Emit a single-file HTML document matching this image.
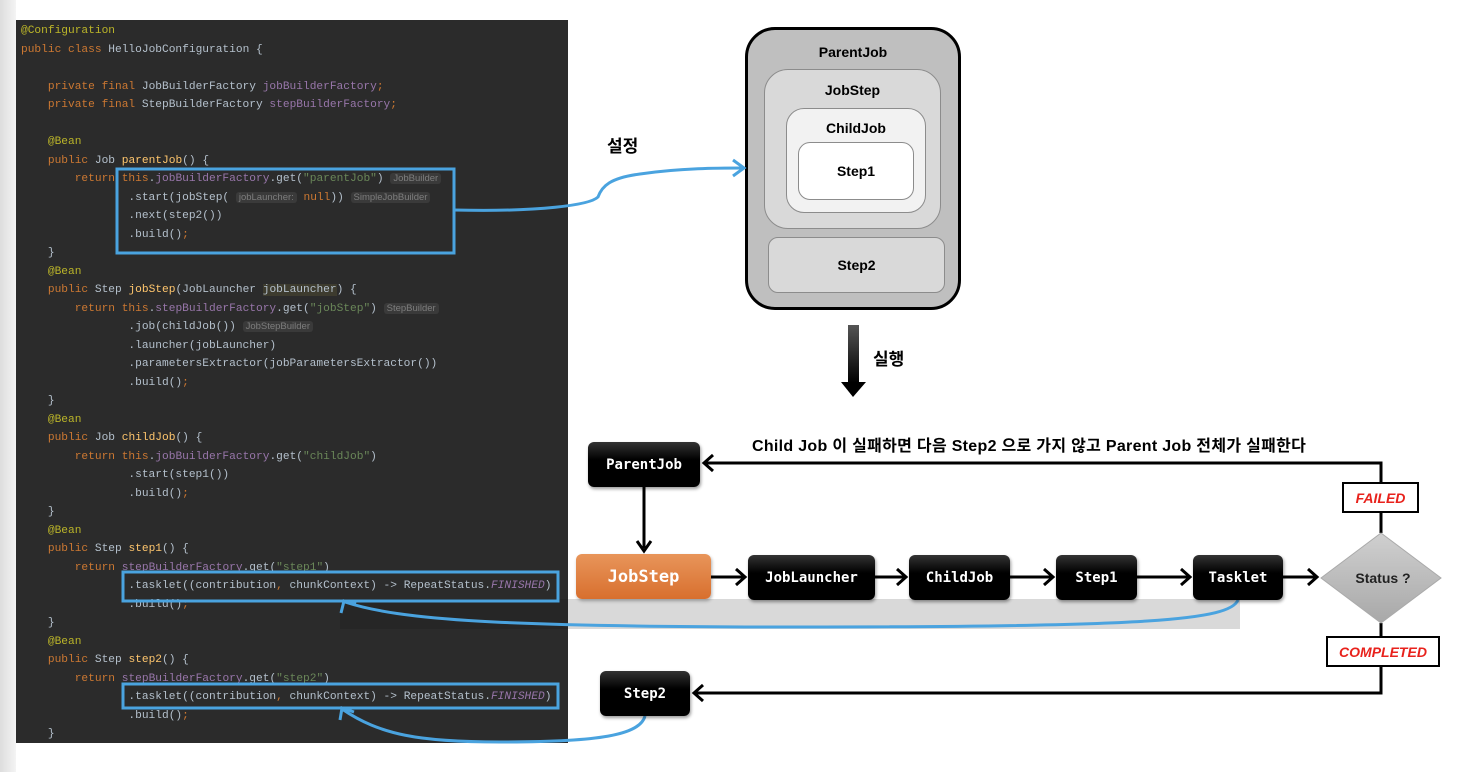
<!DOCTYPE html>
<html><head><meta charset="utf-8"><style>
body{margin:0;width:1462px;height:772px;background:#fff;position:relative;overflow:hidden;font-family:"Liberation Sans","Noto Sans CJK KR",sans-serif}
#lg{position:absolute;left:0;top:0;width:16px;height:772px;background:linear-gradient(90deg,#ddd,#f4f4f4)}
#code{position:absolute;left:16px;top:20px;width:552px;height:723px;background:#2b2b2b}
pre{position:absolute;left:21px;top:22px;margin:0;font-family:"Liberation Mono",monospace;font-size:11.2px;line-height:18.5px;color:#b4c0cc}
.k{color:#cc7832}.a{color:#bbb529}.f{color:#9876aa}.s{color:#6a8759}.m{color:#ffc66d}.i{color:#9876aa;font-style:italic}
.h{font-family:"Liberation Sans",sans-serif;font-size:9.5px;color:#7d7d7d;background:#3a3a3a;border-radius:3px;padding:0 3px}
.hl{background:#3d3b2e}
.box{position:absolute;box-sizing:border-box;border-radius:8px;font-weight:bold;display:flex;align-items:center;justify-content:center}
.blk{background:linear-gradient(#333,#000 40%);color:#fff;font-family:"DejaVu Sans Mono",monospace;font-size:14px;border-radius:6px;box-shadow:1px 2px 3px rgba(0,0,0,.4)}
.lbl{position:absolute;background:#fff;border:2px solid #000;box-sizing:border-box;color:#e8221c;font-style:italic;font-weight:bold;font-size:14px;display:flex;align-items:center;justify-content:center}
</style></head><body>
<div id="lg"></div>
<div id="code"></div>
<div style="position:absolute;left:340px;top:599px;width:228px;height:30px;background:#262626"></div>
<div style="position:absolute;left:568px;top:599px;width:672px;height:30px;background:#d9d9d9"></div>
<pre><span class="a">@Configuration</span>
<span class="k">public class</span> HelloJobConfiguration {

    <span class="k">private final</span> JobBuilderFactory <span class="f">jobBuilderFactory</span><span class="k">;</span>
    <span class="k">private final</span> StepBuilderFactory <span class="f">stepBuilderFactory</span><span class="k">;</span>

    <span class="a">@Bean</span>
    <span class="k">public</span> Job <span class="m">parentJob</span>() {
        <span class="k">return this</span>.<span class="f">jobBuilderFactory</span>.get(<span class="s">"parentJob"</span>) <span class="h">JobBuilder</span>
                .start(jobStep( <span class="h">jobLauncher:</span> <span class="k">null</span>)) <span class="h">SimpleJobBuilder</span>
                .next(step2())
                .build()<span class="k">;</span>
    }
    <span class="a">@Bean</span>
    <span class="k">public</span> Step <span class="m">jobStep</span>(JobLauncher <span class="hl">jobLauncher</span>) {
        <span class="k">return this</span>.<span class="f">stepBuilderFactory</span>.get(<span class="s">"jobStep"</span>) <span class="h">StepBuilder</span>
                .job(childJob()) <span class="h">JobStepBuilder</span>
                .launcher(jobLauncher)
                .parametersExtractor(jobParametersExtractor())
                .build()<span class="k">;</span>
    }
    <span class="a">@Bean</span>
    <span class="k">public</span> Job <span class="m">childJob</span>() {
        <span class="k">return this</span>.<span class="f">jobBuilderFactory</span>.get(<span class="s">"childJob"</span>)
                .start(step1())
                .build()<span class="k">;</span>
    }
    <span class="a">@Bean</span>
    <span class="k">public</span> Step <span class="m">step1</span>() {
        <span class="k">return</span> <span class="f">stepBuilderFactory</span>.get(<span class="s">"step1"</span>)
                .tasklet((contribution<span class="k">,</span> chunkContext) -> RepeatStatus.<span class="i">FINISHED</span>)
                .build()<span class="k">;</span>
    }
    <span class="a">@Bean</span>
    <span class="k">public</span> Step <span class="m">step2</span>() {
        <span class="k">return</span> <span class="f">stepBuilderFactory</span>.get(<span class="s">"step2"</span>)
                .tasklet((contribution<span class="k">,</span> chunkContext) -> RepeatStatus.<span class="i">FINISHED</span>)
                .build()<span class="k">;</span>
    }</pre>

<!-- top nested diagram -->
<div class="box" style="left:745px;top:27px;width:216px;height:283px;background:#bfbfbf;border:3px solid #000;border-radius:30px;align-items:flex-start;padding-top:14px;font-size:14px">ParentJob</div>
<div class="box" style="left:764px;top:69px;width:177px;height:160px;background:#d9d9d9;border:1.5px solid #8c8c8c;border-radius:24px;align-items:flex-start;padding-top:12px;font-size:14px">JobStep</div>
<div class="box" style="left:786px;top:108px;width:140px;height:105px;background:#f2f2f2;border:1.5px solid #8c8c8c;border-radius:18px;align-items:flex-start;padding-top:11px;font-size:14px">ChildJob</div>
<div class="box" style="left:798px;top:142px;width:116px;height:58px;background:#fff;border:1.5px solid #8c8c8c;border-radius:12px;font-size:14px">Step1</div>
<div class="box" style="left:768px;top:237px;width:177px;height:56px;background:#d9d9d9;border:1.5px solid #8c8c8c;border-radius:10px;font-size:14px">Step2</div>
<div style="position:absolute;left:607px;top:132px;font-weight:bold;font-size:17px">설정</div>
<div style="position:absolute;left:873px;top:345px;font-weight:bold;font-size:17px">실행</div>
<div style="position:absolute;left:752px;top:432px;font-weight:bold;font-size:16px;letter-spacing:0.3px;white-space:nowrap">Child Job 이 실패하면 다음 Step2 으로 가지 않고 Parent Job 전체가 실패한다</div>

<svg width="1462" height="772" style="position:absolute;left:0;top:0">
<defs><linearGradient id="ga" x1="0" x2="0" y1="0" y2="1"><stop offset="0" stop-color="#555"/><stop offset="1" stop-color="#000"/></linearGradient>
<linearGradient id="gd" x1="0" x2="0" y1="0" y2="1"><stop offset="0" stop-color="#d0d0d0"/><stop offset="1" stop-color="#a8a8a8"/></linearGradient></defs>
<rect x="848" y="325" width="11" height="58" fill="url(#ga)"/>
<polygon points="841,382 866,382 853,397" fill="#000"/>
<g fill="none" stroke="#4aa3df" stroke-width="3">
<rect x="117" y="169" width="337" height="84"/>
<rect x="123" y="572" width="435" height="29"/>
<rect x="123" y="684" width="435" height="24"/>
<path d="M454,210 C540,212 590,205 598,197 C602,186 610,178 640,174 C680,168 720,168 744,168"/>
<path d="M733,160 L744,168 L733,176"/>
<path d="M1238,600 C1230,620 1150,627 800,627 C500,627 400,620 345,602"/>
<path d="M341,613 L344,601 L356,604"/>
<path d="M645,716 C640,735 600,742 500,742 C420,742 380,735 342,709"/>
<path d="M340,720 L342,708 L354,712"/>
</g>
<g stroke="#000" stroke-width="3" fill="none">
<path d="M644,487 V548"/><path d="M637,541 L644,551 L651,541"/>
<path d="M711,577 H744"/><path d="M736,569 L745,577 L736,585"/>
<path d="M875,577 H905"/><path d="M897,569 L906,577 L897,585"/>
<path d="M1010,577 H1052"/><path d="M1044,569 L1053,577 L1044,585"/>
<path d="M1137,577 H1189"/><path d="M1181,569 L1190,577 L1181,585"/>
<path d="M1283,577 H1316"/><path d="M1308,569 L1317,577 L1308,585"/>
<path d="M1381,533 V463 H704"/><path d="M713,455 L704,463 L713,471"/>
<path d="M1381,623 V693 H694"/><path d="M703,685 L694,693 L703,701"/>
</g>
<polygon points="1381,533 1441,578 1381,623 1321,578" fill="url(#gd)" stroke="#aaa"/>
<text x="1383" y="583" text-anchor="middle" font-family="Liberation Sans" font-size="14" font-weight="bold" fill="#222">Status ?</text>
</svg>
<div class="lbl" style="left:1342px;top:482px;width:77px;height:31px">FAILED</div>
<div class="lbl" style="left:1326px;top:636px;width:114px;height:31px">COMPLETED</div>
<div class="box blk" style="left:588px;top:442px;width:112px;height:45px">ParentJob</div>
<div class="box" style="left:576px;top:554px;width:135px;height:45px;background:linear-gradient(#e8955a,#d86f2e);color:#fff;font-family:'DejaVu Sans Mono',monospace;font-size:17px;border-radius:6px;box-shadow:1px 2px 3px rgba(0,0,0,.3)">JobStep</div>
<div class="box blk" style="left:748px;top:555px;width:127px;height:45px">JobLauncher</div>
<div class="box blk" style="left:909px;top:555px;width:101px;height:45px">ChildJob</div>
<div class="box blk" style="left:1056px;top:555px;width:81px;height:45px">Step1</div>
<div class="box blk" style="left:1193px;top:555px;width:90px;height:45px">Tasklet</div>
<div class="box blk" style="left:600px;top:671px;width:90px;height:45px">Step2</div>
</body></html>
